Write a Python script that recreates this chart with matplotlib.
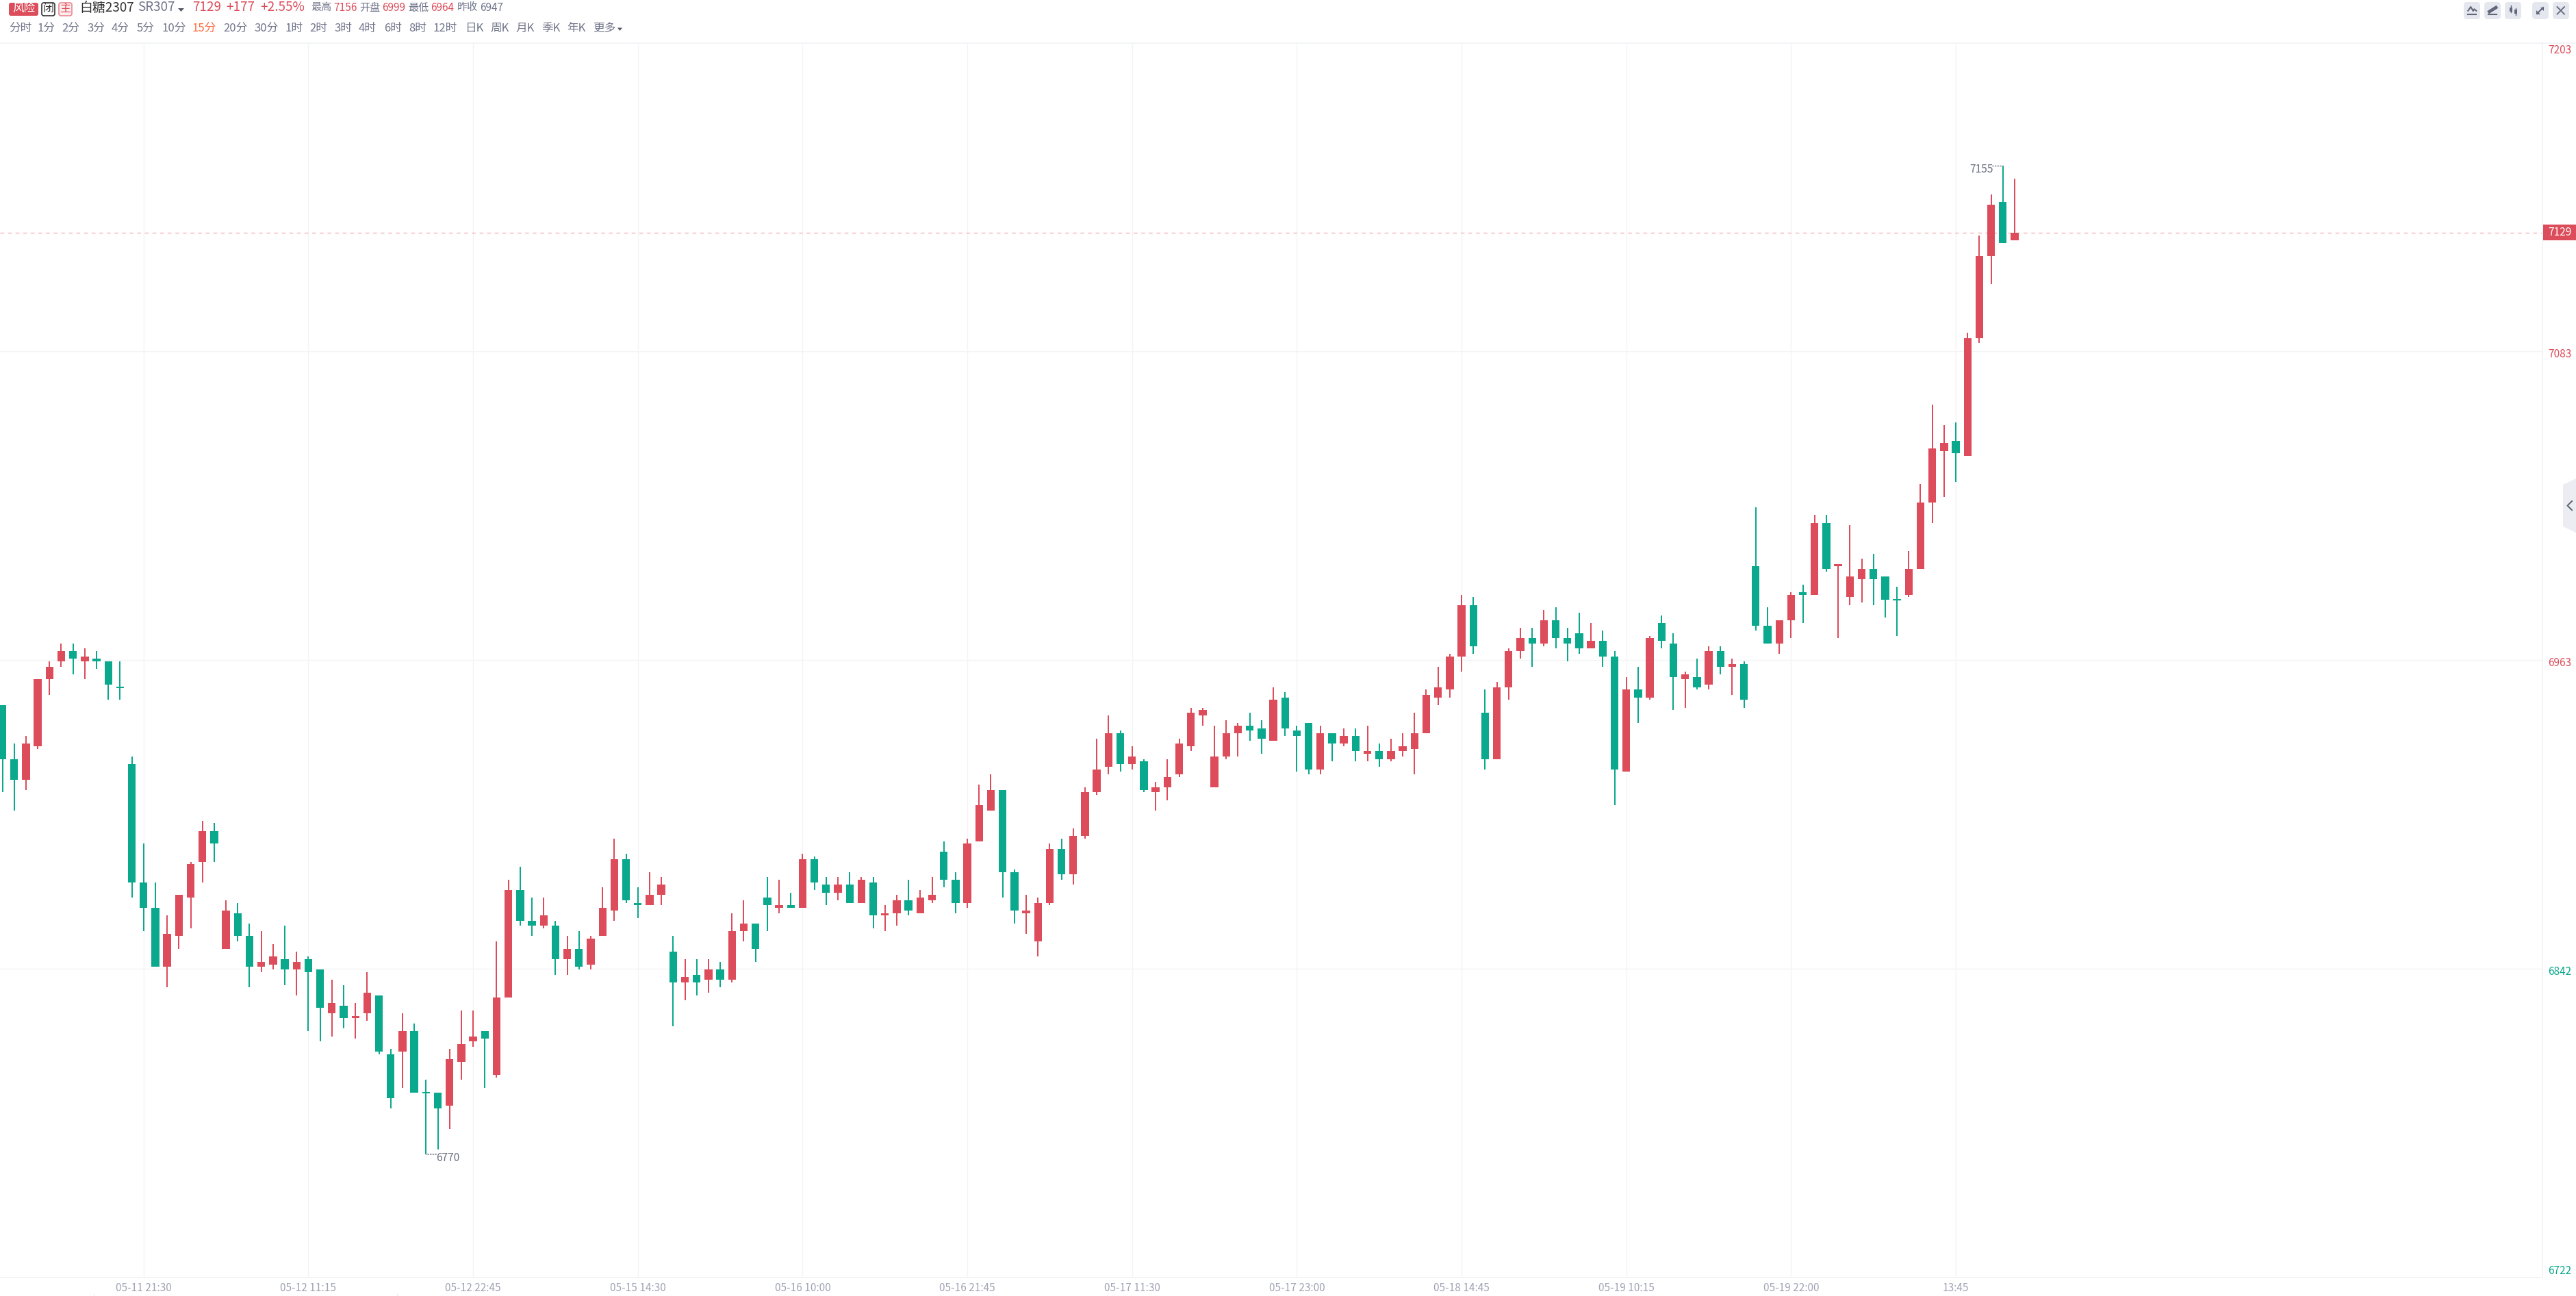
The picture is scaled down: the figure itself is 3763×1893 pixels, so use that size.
import matplotlib
matplotlib.use("Agg")
import matplotlib.pyplot as plt
from matplotlib.patches import FancyBboxPatch, Rectangle, Polygon
import numpy as np

plt.rcParams['font.family'] = ['Noto Sans CJK SC', 'DejaVu Sans']

# candles, 15 min bars
opens = [6945, 6924, 6916, 6929, 6955, 6962, 6966, 6962, 6963, 6962,
         6952, 6922, 6876, 6866, 6843, 6855, 6870, 6884, 6896, 6850,
         6864, 6855, 6843, 6844, 6846, 6842, 6846, 6842, 6825, 6828,
         6823, 6825, 6832, 6809, 6810, 6818, 6794, 6794, 6789, 6806,
         6814, 6818, 6801, 6831, 6873, 6861, 6859, 6859, 6846, 6850,
         6844, 6855, 6865, 6885, 6868, 6867, 6871, 6849, 6837, 6840,
         6838, 6842, 6838, 6857, 6860, 6870, 6866, 6867, 6866, 6885,
         6875, 6872, 6875, 6868, 6876, 6863, 6864, 6869, 6864, 6869,
         6888, 6877, 6868, 6892, 6904, 6912, 6880, 6864, 6853, 6868,
         6889, 6879, 6894, 6911, 6921, 6934, 6922, 6923, 6911, 6913,
         6918, 6929, 6941, 6913, 6925, 6934, 6937, 6936, 6931, 6948,
         6935, 6938, 6920, 6934, 6930, 6933, 6926, 6927, 6924, 6927,
         6928, 6934, 6948, 6951, 6964, 6984, 6942, 6924, 6952, 6966,
         6971, 6969, 6978, 6971, 6973, 6967, 6970, 6964, 6919, 6951,
         6948, 6977, 6969, 6955, 6956, 6953, 6966, 6960, 6961, 6999,
         6976, 6969, 6978, 6989, 6988, 7016, 6999, 6987, 6994, 6998,
         6995, 6986, 6988, 6998, 7024, 7044, 7048, 7042, 7088, 7120, 7141, 7126]
closes = [6924, 6916, 6930, 6955, 6960, 6966, 6963, 6964, 6962, 6953,
          6952, 6876, 6866, 6843, 6856, 6871, 6883, 6896, 6891, 6865,
          6855, 6843, 6845, 6847, 6842, 6845, 6841, 6827, 6829, 6823,
          6824, 6833, 6810, 6792, 6818, 6794, 6794, 6788, 6807, 6813,
          6816, 6815, 6831, 6873, 6861, 6859, 6863, 6846, 6850, 6843,
          6854, 6866, 6885, 6869, 6867, 6871, 6875, 6837, 6839, 6837,
          6842, 6838, 6857, 6860, 6850, 6867, 6867, 6866, 6885, 6876,
          6872, 6875, 6868, 6877, 6863, 6864, 6869, 6865, 6870, 6871,
          6877, 6868, 6891, 6906, 6912, 6880, 6865, 6865, 6868, 6889,
          6879, 6894, 6911, 6920, 6934, 6922, 6925, 6912, 6913, 6917,
          6930, 6942, 6943, 6925, 6934, 6937, 6935, 6932, 6947, 6936,
          6933, 6920, 6934, 6930, 6933, 6927, 6927, 6924, 6927, 6929,
          6934, 6949, 6952, 6964, 6984, 6968, 6924, 6952, 6966, 6971,
          6969, 6978, 6971, 6969, 6967, 6970, 6964, 6920, 6951, 6948,
          6971, 6970, 6956, 6957, 6952, 6966, 6960, 6961, 6947, 6976,
          6969, 6978, 6988, 6988, 7016, 6998, 7000, 6995, 6998, 6994,
          6986, 6986, 6998, 7024, 7045, 7047, 7043, 7088, 7120, 7140, 7125, 7129]
highs = [6945, 6930, 6933, 6955, 6962, 6969, 6969, 6967, 6966, 6962,
         6962, 6925, 6891, 6876, 6863, 6871, 6884, 6900, 6899, 6869,
         6868, 6860, 6857, 6852, 6859, 6849, 6847, 6842, 6838, 6836,
         6829, 6841, 6832, 6811, 6825, 6821, 6799, 6794, 6811, 6826,
         6826, 6818, 6853, 6877, 6882, 6870, 6870, 6861, 6855, 6857,
         6855, 6874, 6893, 6887, 6874, 6880, 6878, 6855, 6846, 6846,
         6846, 6845, 6864, 6869, 6860, 6878, 6877, 6872, 6887, 6886,
         6878, 6878, 6880, 6878, 6878, 6867, 6871, 6877, 6873, 6878,
         6892, 6880, 6893, 6914, 6918, 6912, 6881, 6871, 6870, 6891,
         6893, 6897, 6913, 6932, 6941, 6935, 6929, 6924, 6915, 6924,
         6932, 6944, 6944, 6937, 6939, 6938, 6942, 6939, 6952, 6950,
         6937, 6938, 6937, 6934, 6936, 6936, 6937, 6930, 6932, 6934,
         6942, 6951, 6960, 6965, 6988, 6987, 6951, 6954, 6967, 6975,
         6975, 6982, 6983, 6975, 6981, 6977, 6974, 6966, 6956, 6960,
         6972, 6980, 6973, 6958, 6963, 6968, 6968, 6963, 6962, 7022,
         6983, 6978, 6989, 6992, 7019, 7019, 7000, 7015, 7002, 7004,
         6995, 6991, 7005, 7031, 7062, 7054, 7055, 7090, 7128, 7144, 7155, 7150]
lows = [6911, 6904, 6912, 6928, 6949, 6960, 6957, 6955, 6959, 6947,
        6947, 6870, 6857, 6843, 6835, 6850, 6858, 6876, 6884, 6850,
        6853, 6835, 6841, 6842, 6836, 6832, 6818, 6814, 6816, 6819,
        6815, 6822, 6809, 6788, 6796, 6794, 6770, 6772, 6780, 6799,
        6812, 6796, 6800, 6831, 6859, 6855, 6858, 6840, 6840, 6842,
        6842, 6855, 6861, 6868, 6862, 6867, 6867, 6820, 6830, 6832,
        6833, 6835, 6837, 6853, 6845, 6857, 6864, 6866, 6866, 6873,
        6867, 6869, 6868, 6868, 6858, 6857, 6859, 6863, 6864, 6868,
        6874, 6864, 6866, 6892, 6904, 6870, 6860, 6856, 6847, 6867,
        6877, 6875, 6893, 6910, 6918, 6919, 6920, 6911, 6904, 6908,
        6917, 6927, 6937, 6913, 6924, 6925, 6931, 6926, 6931, 6933,
        6919, 6918, 6918, 6923, 6929, 6923, 6923, 6921, 6923, 6925,
        6918, 6934, 6945, 6948, 6958, 6965, 6920, 6924, 6947, 6963,
        6960, 6968, 6967, 6962, 6965, 6967, 6960, 6906, 6919, 6938,
        6947, 6967, 6943, 6944, 6951, 6951, 6957, 6949, 6944, 6974,
        6969, 6965, 6971, 6977, 6988, 6997, 6971, 6984, 6985, 6984,
        6979, 6972, 6987, 6998, 7016, 7026, 7032, 7042, 7086, 7109, 7125, 7126]

time_labels = ['05-11 21:30', '05-12 11:15', '05-12 22:45', '05-15 14:30',
               '05-16 10:00', '05-16 21:45', '05-17 11:30', '05-17 23:00',
               '05-18 14:45', '05-19 10:15', '05-19 22:00', '13:45']
time_idx = [12, 26, 40, 54, 68, 82, 96, 110, 124, 138, 152, 166]
# the axis splits its range in four, the labels are rounded
price_ticks = [7203, 7082.75, 6962.5, 6842.25, 6722]
price_labels = ['7203', '7083', '6963', '6842', '6722']
last_price = 7129
max_high = 7155
min_low = 6770

periods = ['分时', '1分', '2分', '3分', '4分', '5分', '10分', '15分', '20分', '30分',
           '1时', '2时', '3时', '4时', '6时', '8时', '12时', '日K', '周K', '月K',
           '季K', '年K', '更多']
quotes = [('最高', '7156'), ('开盘', '6999'), ('最低', '6964'), ('昨收', '6947')]

W, H = 3763, 1893
RED = '#dc4c5a'
GREEN = '#0aa88c'
GRID = '#f3f4f6'
GREY = '#70758a'
PX = 0.72  # one pixel in points at dpi 100

fig = plt.figure(figsize=(W / 100, H / 100), dpi=100, facecolor='white')

# main price pane, pixel box 0..3714 / 62.5..1866
ax = fig.add_axes([0, 1 - 1866 / H, 3714 / W, (1866 - 62.5) / H])
ax.set_xlim(-3.5 / 17.19, (3714 - 3.5) / 17.19)
ax.set_ylim(6722, 7203)
for s in ['left', 'top']:
    ax.spines[s].set_visible(False)
for s in ['right', 'bottom']:
    ax.spines[s].set_color(GRID)
    ax.spines[s].set_linewidth(1.4)

ax.set_xticks(time_idx, time_labels)
ax.set_yticks(price_ticks)
ax.tick_params(axis='x', length=0, pad=5.2, labelsize=11.1, labelcolor='#a0a3b4')
ax.tick_params(axis='y', length=0, labelleft=False)
ax.grid(True, color=GRID, lw=1.0)
ax.set_axisbelow(True)

o = np.array(opens)
c = np.array(closes)
hi = np.array(highs)
lo = np.array(lows)
x = np.arange(len(o))
up = c > o
colors = [RED if u else GREEN for u in up]

ax.vlines(x, lo, hi, colors=colors, lw=2 * PX, zorder=3)
ax.bar(x, np.abs(c - o), bottom=np.minimum(o, c), width=0.66, color=colors, lw=0, zorder=4)
flat = o == c
ax.hlines(o[flat], x[flat] - 0.33, x[flat] + 0.33, colors=GREEN, lw=2 * PX, zorder=4)

# last price line
ax.axhline(last_price, color='#f5b3ba', lw=1.0, dashes=(4, 4), zorder=2)

# high / low notes
i_hi = int(np.argmax(hi))
i_lo = int(np.argmin(lo))
ax.annotate(str(max_high), (i_hi, max_high), xytext=(-49 * PX, -5 * PX), textcoords='offset points',
            ha='left', va='center', fontsize=11.1, color='#6b7080')
ax.annotate('', (i_hi, max_high), xytext=(-15 * PX, 0), textcoords='offset points',
            arrowprops=dict(arrowstyle='-', ls=':', color='#6b7080', lw=1.0, shrinkA=0, shrinkB=0))
ax.annotate(str(min_low), (i_lo, min_low), xytext=(15 * PX, -5 * PX), textcoords='offset points',
            ha='left', va='center', fontsize=11.1, color='#6b7080')
ax.annotate('', (i_lo, min_low), xytext=(15 * PX, 0), textcoords='offset points',
            arrowprops=dict(arrowstyle='-', ls=':', color='#6b7080', lw=1.0, shrinkA=0, shrinkB=0))

# price labels right of the pane
label_shift = [-11, -4, -4, -4, 9]
for p, s, shift in zip(price_ticks, price_labels, label_shift):
    ax.annotate(s, (1, p), xycoords=('axes fraction', 'data'),
                xytext=(25 * PX, shift * PX), textcoords='offset points',
                ha='center', va='center', fontsize=11.1,
                color=RED if p > 6947 else GREEN)

# everything else lives in a pixel overlay
ui = fig.add_axes([0, 0, 1, 1], zorder=5)
ui.set_xlim(0, W)
ui.set_ylim(H, 0)
ui.axis('off')
ui.patch.set_alpha(0)


def box(x0, y0, x1, y1, fc, ec='none', r=3):
    ui.add_patch(FancyBboxPatch((x0 + r, y0 + r), x1 - x0 - 2 * r, y1 - y0 - 2 * r,
                                boxstyle='round,pad=%d,rounding_size=%d' % (r, r),
                                fc=fc, ec=ec, lw=1.2))


def label(x0, y0, s, color, size, ha='left', **kw):
    ui.text(x0, y0, s, color=color, fontsize=size, ha=ha, va='center', **kw)


ui.plot([0, 3763], [63, 63], color=GRID, lw=1.4)
for tx in [137, 580]:
    ui.plot([tx, tx], [1890, 1893], color='#e8e9ee', lw=0.8)

# header row
box(13, 4, 56, 23, RED)
label(34.5, 12.5, '风险', 'white', 12, ha='center', fontweight='medium')
box(61, 4, 80, 23, 'white', ec='#333333')
label(70.5, 12.5, '闭', '#333333', 11.5, ha='center')
box(86, 4, 105, 23, '#fdecec', ec='#e98a92')
label(95.5, 12.5, '主', RED, 11.5, ha='center')
label(116, 11, '白糖2307', '#333333', 13.6)
label(201, 11, 'SR307', GREY, 13.6)
ui.add_patch(Polygon([[260, 12], [269, 12], [264.5, 17]], fc='#555a6a', ec='none'))
label(281, 11, '7129', RED, 13.6, fontweight='medium')
label(330, 11, '+177', RED, 13.6, fontweight='medium')
label(380, 11, '+2.55%', RED, 13.6, fontweight='medium')
quote_lefts = [454, 525, 596, 668]
for left, (name, val) in zip(quote_lefts, quotes):
    label(left, 11, name, GREY, 10.9)
    label(left + 33, 11, val, '#70758a' if name == '昨收' else RED, 11.1)

# period row
period_lefts = [13, 54, 90, 127, 163, 200, 236, 281, 326, 371, 416, 452, 488, 524, 561, 597,
                633, 679, 716, 753, 791, 828, 866]
for left, name in zip(period_lefts, periods):
    label(left, 41.5, name, '#ff6a3c' if name == '15分' else GREY, 12)
ui.add_patch(Polygon([[902, 40.5], [909, 40.5], [905.5, 45]], fc='#555a6a', ec='none'))

# tool buttons, top right
for bx in [3599, 3629, 3659, 3699, 3729]:
    box(bx, 3, bx + 24, 28, '#e4e7ee', r=5)
ICON = '#62667a'
ui.plot([3605.3, 3609.3, 3612.7, 3614.3, 3617.3], [15.7, 10, 16, 13.3, 15.7], color=ICON, lw=1.5)
ui.plot([3605.3, 3617.3], [20.7, 20.7], color=ICON, lw=1.5)
ui.plot([3636.5, 3646], [17, 11], color=ICON, lw=3.4)
ui.plot([3635, 3647], [20.7, 20.7], color=ICON, lw=1.5)
for cx, y0, y1, b0, b1 in [(3667.7, 8, 18, 11, 16.5), (3674.7, 12, 22, 14, 20)]:
    ui.plot([cx, cx], [y0, y1], color=ICON, lw=1)
    ui.add_patch(Rectangle((cx - 2, b0), 4, b1 - b0, fc=ICON, ec='none'))
ui.plot([3706, 3715], [20, 11], color=ICON, lw=1.5)
ui.add_patch(Polygon([[3710.5, 10.5], [3715.7, 10.5], [3715.7, 15.7]], fc=ICON, ec='none'))
ui.add_patch(Polygon([[3705.3, 15.3], [3705.3, 20.7], [3710.7, 20.7]], fc=ICON, ec='none'))
ui.plot([3735.5, 3746], [10, 20.7], color=ICON, lw=1.3)
ui.plot([3746, 3735.5], [10, 20.7], color=ICON, lw=1.3)

# last price tag
ui.add_patch(Rectangle((3715, 328), 48, 23, fc=RED, ec='none'))
label(3739, 339, str(last_price), 'white', 11.1, ha='center')

# side handle
ui.add_patch(Polygon([[3744, 708], [3763, 699], [3763, 778], [3744, 769]], fc='#ecedf2', ec='none'))
ui.plot([3757, 3750.5, 3757], [732, 738.5, 745], color='#5a6070', lw=1.4)

fig.savefig('out.png', dpi=100, facecolor='white')
